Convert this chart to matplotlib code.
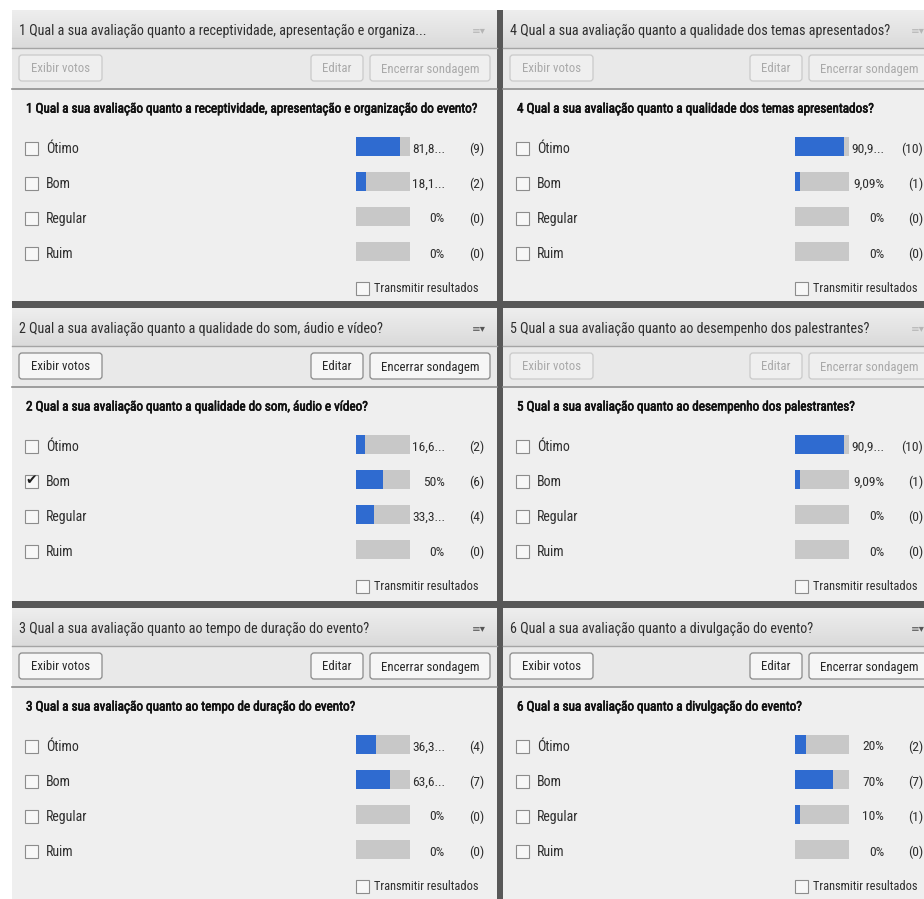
import numpy as np
import matplotlib
matplotlib.use("Agg")
import matplotlib.pyplot as plt
import matplotlib.patheffects as pe
from matplotlib import font_manager
from matplotlib.patches import Rectangle, FancyBboxPatch
from matplotlib.colors import LinearSegmentedColormap

# poll data, left column first (1, 2, 3) then right column (4, 5, 6)
header_titles = [
    "1 Qual a sua avaliação quanto a receptividade, apresentação e organiza...",
    "2 Qual a sua avaliação quanto a qualidade do som, áudio e vídeo?",
    "3 Qual a sua avaliação quanto ao tempo de duração do evento?",
    "4 Qual a sua avaliação quanto a qualidade dos temas apresentados?",
    "5 Qual a sua avaliação quanto ao desempenho dos palestrantes?",
    "6 Qual a sua avaliação quanto a divulgação do evento?",
]
questions = [
    "1 Qual a sua avaliação quanto a receptividade, apresentação e organização do evento?",
    "2 Qual a sua avaliação quanto a qualidade do som, áudio e vídeo?",
    "3 Qual a sua avaliação quanto ao tempo de duração do evento?",
    "4 Qual a sua avaliação quanto a qualidade dos temas apresentados?",
    "5 Qual a sua avaliação quanto ao desempenho dos palestrantes?",
    "6 Qual a sua avaliação quanto a divulgação do evento?",
]
options = ["Ótimo", "Bom", "Regular", "Ruim"]
votes = [
    [9, 2, 0, 0],
    [2, 6, 4, 0],
    [4, 7, 0, 0],
    [10, 1, 0, 0],
    [10, 1, 0, 0],
    [2, 7, 1, 0],
]
enabled = [False, True, True, False, False, True]
checked = [None, 1, None, None, None, None]   # index of ticked option
button_labels = ["Exibir votos", "Editar", "Encerrar sondagem"]
transmit_label = "Transmitir resultados"

# pick a narrow font if there is one
installed = {f.name for f in font_manager.fontManager.ttflist}
font = "DejaVu Sans"
for name in ["Liberation Sans Narrow", "Roboto Condensed", "Open Sans Condensed", "Liberation Sans"]:
    if name in installed:
        font = name
        break
plt.rcParams["font.family"] = [font, "DejaVu Sans"]

W, H = 924, 899
fig = plt.figure(figsize=(W / 100, H / 100), dpi=100)
ax = fig.add_axes([0, 0, 1, 1])
ax.set_xlim(0, W)
ax.set_ylim(H, 0)
ax.axis("off")


def pct_label(v):
    s = f"{v:.2f}".rstrip("0").rstrip(".").replace(".", ",") + "%"
    return s if len(s) <= 5 else s[:4] + "..."


def gradient(x0, x1, y0, y1, c_top, c_bot):
    cmap = LinearSegmentedColormap.from_list("g", [c_top, c_bot])
    ax.imshow(np.linspace(0, 1, 64).reshape(-1, 1), cmap=cmap, aspect="auto",
              extent=(x0, x1, y1, y0), interpolation="bilinear", zorder=1)


def button(x0, x1, y0, y1, label, active):
    face = "#f6f6f6" if active else "#efefef"
    edge = "#8a8a8a" if active else "#cacaca"
    col = "#262626" if active else "#a9a9a9"
    ax.add_patch(FancyBboxPatch((x0, y0), x1 - x0, y1 - y0,
                                boxstyle="round,pad=0,rounding_size=3",
                                fc=face, ec=edge, lw=0.9, zorder=3))
    ax.text((x0 + x1) / 2, (y0 + y1) / 2 + 1, label, ha="center", va="center",
            fontsize=9.2, color=col, zorder=4)


def checkbox(x, yc, size=13):
    ax.add_patch(Rectangle((x, yc - size / 2), size, size, fc="#f7f7f7",
                           ec="#8c8c8c", lw=0.8, zorder=3))


# dark frame behind the panels
ax.add_patch(Rectangle((12, 10), W - 12, H - 10, fc="#585858", ec="none", zorder=0))

cols = [(12, 497), (503, 936)]
rows = [(10, 301), (308, 601), (608, 899)]

for i in range(6):
    px0, px1 = cols[i // 3]
    py, pb = rows[i % 3]
    active = enabled[i]

    # panel body, header and button strip
    ax.add_patch(Rectangle((px0, py), px1 - px0, pb - py, fc="#efefef", ec="none", zorder=1))
    gradient(px0, px1, py, py + 38, "#eeeeee", "#dadada")
    ax.add_patch(Rectangle((px0, py + 38), px1 - px0, 40, fc="#e9e9e9", ec="none", zorder=1))
    ax.plot([px0, px1], [py + 38, py + 38], color="#a4a4a4", lw=1, zorder=2)
    ax.plot([px0, px1], [py + 78.5, py + 78.5], color="#8e8e8e", lw=1.2, zorder=2)

    ax.text(px0 + 7, py + 21, header_titles[i], ha="left", va="center",
            fontsize=10.15, color="#2e2e2e", zorder=4)
    ax.text(px1 - 18, py + 20, "≡▾", ha="center", va="center", fontsize=7.5,
            family="DejaVu Sans", color="#555555" if active else "#b5b5b5", zorder=4)

    button(px0 + 7, px0 + 90, py + 45, py + 71, button_labels[0], active)
    button(px1 - 186, px1 - 134, py + 45, py + 71, button_labels[1], active)
    button(px1 - 127, px1 - 7, py + 45, py + 71, button_labels[2], active)

    ax.text(px0 + 14, py + 99, questions[i], ha="left", va="center",
            fontsize=9.5, color="#111111", zorder=4,
            path_effects=[pe.withStroke(linewidth=0.45, foreground="#111111")])

    total = sum(votes[i])
    pct = [100 * v / total for v in votes[i]]

    # bars for the four options
    top = py + 136 - 17.5
    bax = fig.add_axes([(px1 - 141) / W, 1 - (top + 140) / H, 54 / W, 140 / H])
    bax.barh(range(4), [100] * 4, height=19 / 35, color="#c8c8c8")
    bax.barh(range(4), pct, height=19 / 35, color="#2f6bd0")
    bax.set_xlim(0, 100)
    bax.set_ylim(3.5, -0.5)
    bax.axis("off")

    for k, opt in enumerate(options):
        yc = py + 139 + 35 * k
        checkbox(px0 + 13, yc - 1)
        if checked[i] == k:
            ax.text(px0 + 19.5, yc - 2, "✔", ha="center", va="center", fontsize=10,
                    family="DejaVu Sans", color="#1e1e1e", zorder=5)
        ax.text(px0 + 34, yc, opt, ha="left", va="center", fontsize=10,
                color="#2e2e2e", zorder=4)
        ax.text(px1 - 52, yc, pct_label(pct[k]), ha="right", va="center",
                fontsize=9.7, color="#2e2e2e", zorder=4)
        ax.text(px1 - 13, yc, f"({votes[i][k]})", ha="right", va="center",
                fontsize=9.7, color="#2e2e2e", zorder=4)

    checkbox(px1 - 141, py + 278)
    ax.text(px1 - 123, py + 279, transmit_label, ha="left", va="center",
            fontsize=8.9, color="#2e2e2e", zorder=4)

ax.set_xlim(0, W)
ax.set_ylim(H, 0)
fig.savefig("out.png", dpi=100)
